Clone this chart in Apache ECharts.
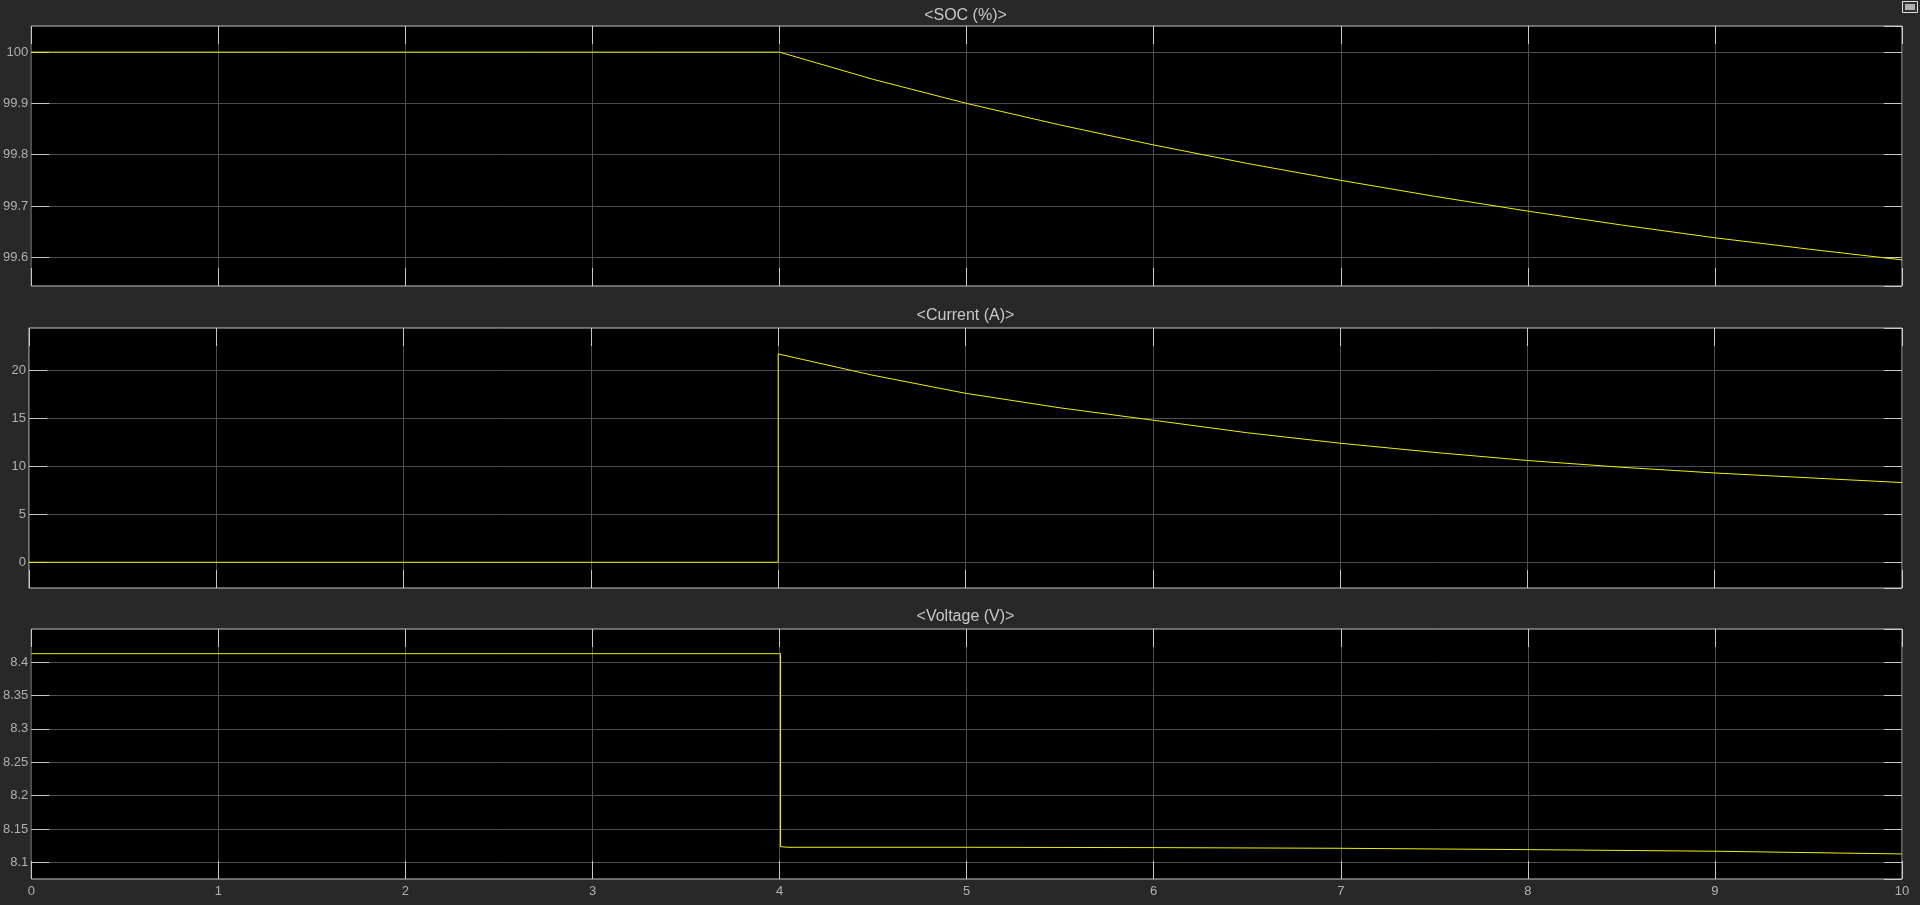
<!DOCTYPE html>
<html>
<head>
<meta charset="utf-8">
<script src="https://cdn.jsdelivr.net/npm/echarts@6/dist/echarts.min.js"></script>
<style>
html,body{margin:0;padding:0;background:#282828;}
#c{width:1920px;height:905px;}
</style>
</head>
<body>
<div id="c"></div>
<script>
// ---- data (time in s) ----
const titles = ['<SOC (%)>', '<Current (A)>', '<Voltage (V)>'];
const socT = [0, 4, 4.5, 5, 5.5, 6, 6.5, 7, 7.5, 8, 8.5, 9, 9.5, 10];
const socV = [100, 100, 99.947, 99.9, 99.858, 99.819, 99.783, 99.75, 99.719, 99.69, 99.663, 99.638, 99.616, 99.595];
const curT = [0, 4, 4, 4.5, 5, 5.5, 6, 6.5, 7, 7.5, 8, 8.5, 9, 9.5, 10];
const curV = [0, 0, 21.7, 19.5, 17.6, 16.1, 14.8, 13.5, 12.4, 11.45, 10.6, 9.9, 9.3, 8.8, 8.3];
const voltT = [0, 4.005, 4.005, 4.05, 5, 6, 7, 8, 9, 10];
const voltV = [8.4125, 8.4125, 8.1234, 8.1225, 8.1225, 8.122, 8.121, 8.119, 8.1166, 8.1125];
const yRanges = [[99.544, 100.051], [-2.68, 24.4], [8.075, 8.4495]];
const ySplit = [5, 5, 7];
const xRange = [0, 10];

const zip = (t, v) => t.map((x, i) => [x, v[i]]);
const seriesData = [zip(socT, socV), zip(curT, curV), zip(voltT, voltV)];

const grids = [
  {left: 29, right: 18, top: 26, height: 260},
  {left: 29, right: 18, top: 328, height: 260},
  {left: 29, right: 18, top: 629, height: 250}
].map(g => Object.assign(g, {show: true, backgroundColor: '#000000', borderColor: '#c4c4c4', borderWidth: 1, containLabel: false}));

const gridColor = '#4e4e4e';
const tickColor = '#c8c8c8';
const labelColor = '#b0b0b0';
const font = 'Liberation Sans, Arial, sans-serif';
const noLine = {show: false, onZero: false};

const xAxes = [], yAxes = [], series = [], graphics = [];
for (let i = 0; i < 3; i++) {
  // bottom x
  xAxes.push({
    type: 'value', gridIndex: i, min: xRange[0], max: xRange[1], interval: 1, position: 'bottom',
    axisLine: noLine,
    axisTick: {show: true, inside: true, length: 18, lineStyle: {color: tickColor, width: 1}},
    axisLabel: {show: i === 2, color: labelColor, fontFamily: font, fontSize: 13, margin: 6},
    splitLine: {show: true, lineStyle: {color: gridColor, width: 1}}
  });
  // top x (ticks only)
  xAxes.push({
    type: 'value', gridIndex: i, min: xRange[0], max: xRange[1], interval: 1, position: 'top',
    axisLine: noLine,
    axisTick: {show: true, inside: true, length: 18, lineStyle: {color: tickColor, width: 1}},
    axisLabel: {show: false}, splitLine: {show: false}
  });
  // left y
  yAxes.push({
    type: 'value', gridIndex: i, min: yRanges[i][0], max: yRanges[i][1], splitNumber: ySplit[i], position: 'left',
    axisLine: noLine,
    axisTick: {show: true, inside: true, length: 18, lineStyle: {color: tickColor, width: 1}},
    axisLabel: {show: true, color: labelColor, fontFamily: font, fontSize: 13, margin: 3, showMinLabel: false, showMaxLabel: false},
    splitLine: {show: true, showMinLine: false, showMaxLine: false, lineStyle: {color: gridColor, width: 1}}
  });
  // right y (ticks only)
  yAxes.push({
    type: 'value', gridIndex: i, min: yRanges[i][0], max: yRanges[i][1], splitNumber: ySplit[i], position: 'right',
    axisLine: noLine,
    axisTick: {show: true, inside: true, length: 18, lineStyle: {color: tickColor, width: 1}},
    axisLabel: {show: false}, splitLine: {show: false}
  });
  series.push({
    type: 'line', xAxisIndex: i * 2, yAxisIndex: i * 2, data: seriesData[i],
    showSymbol: false, symbol: 'none', smooth: false, animation: false,
    lineStyle: {color: '#f0f000', width: 1}, z: 5
  });
}

const titleY = [16, 316, 617];
titles.forEach((t, i) => graphics.push({
  type: 'text', x: 965.5, y: titleY[i],
  style: {text: t, align: 'center', verticalAlign: 'middle', fill: '#c8c8c8', font: '16px ' + font}
}));
// small undock button at top-right
graphics.push({type: 'rect', shape: {x: 1902.5, y: 1.5, width: 15, height: 11}, style: {fill: '#303030', stroke: '#e0e0e0', lineWidth: 1}});
graphics.push({type: 'rect', shape: {x: 1905, y: 4, width: 10, height: 6}, style: {fill: '#b0b0b0'}});

const chart = echarts.init(document.getElementById('c'), null, {renderer: 'canvas'});
chart.setOption({
  backgroundColor: '#282828',
  animation: false,
  grid: grids,
  xAxis: xAxes,
  yAxis: yAxes,
  series: series,
  graphic: graphics
});
</script>
</body>
</html>
